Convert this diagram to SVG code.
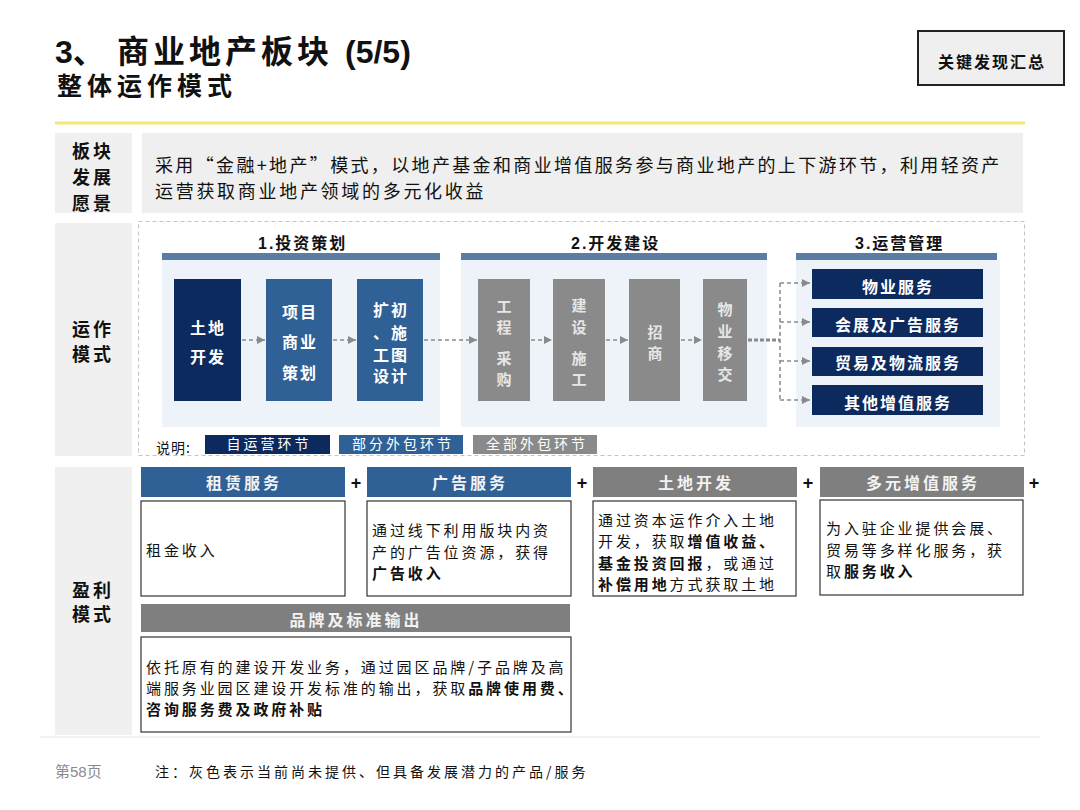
<svg xmlns="http://www.w3.org/2000/svg" width="1080" height="810" viewBox="0 0 1080 810">
<defs>
<marker id="ah" markerWidth="9" markerHeight="9" refX="8" refY="4.5" orient="auto" markerUnits="userSpaceOnUse"><path d="M0,0.5 L8,4.5 L0,8.5 z" fill="#8a8a8a"/></marker>
</defs>
<style>
text{font-family:"Noto Sans CJK SC","Noto Sans",sans-serif}
.lat{font-family:"Liberation Sans","Noto Sans CJK SC",sans-serif}
.cell{fill:#f0f0f0}
.lbl{font-size:18px;font-weight:700;fill:#111;letter-spacing:3px}
.ph{font-size:16px;font-weight:700;fill:#111;letter-spacing:2px}
.bar{fill:#5b7ca3}
.pan{fill:#eef2f9}
.navy{fill:#0c2a5e}
.blue{fill:#2f6096}
.gray{fill:#8a8a8a}
.hgray{fill:#7f7f7f}
.bt{font-size:16px;font-weight:700;fill:#fff;text-anchor:middle;letter-spacing:2px}
.gt{font-size:15px;font-weight:700;fill:#e6e6e6;text-anchor:middle}
.hd{font-size:16px;font-weight:700;fill:#f2f2f2;text-anchor:middle;letter-spacing:3px}
.box{fill:#fff;stroke:#333;stroke-width:1.2}
.ct{font-size:15px;fill:#111;letter-spacing:2.9px}
.b{font-weight:700}
.plus{font-size:18px;font-weight:700;fill:#111;text-anchor:middle;font-family:"Liberation Sans",sans-serif}
.dash{stroke:#8a8a8a;stroke-width:1.5;stroke-dasharray:4 3;fill:none}
.lg{font-size:14px;fill:#fff;text-anchor:middle;letter-spacing:3px}
</style>
<rect width="1080" height="810" fill="#fff"/>

<g id="title">
<text class="lat" x="55" y="63" font-size="32" font-weight="700" fill="#111">3、<tspan x="117" letter-spacing="4">商业地产板块</tspan><tspan x="345">(5/5)</tspan></text>
<text x="57" y="95" font-size="25" font-weight="700" fill="#111" letter-spacing="5">整体运作模式</text>
</g>
<g id="key-box">
<rect x="918" y="31" width="146" height="54" fill="#efefef" stroke="#222" stroke-width="2"/>
<text x="992" y="68" font-size="16" font-weight="700" fill="#111" text-anchor="middle" letter-spacing="2">关键发现汇总</text>
</g>
<line x1="55" y1="123" x2="1025" y2="123" stroke="#f3e577" stroke-width="3"/>

<g id="row-vision">
<rect class="cell" x="55" y="133" width="77" height="80"/>
<text class="lbl" x="72" y="158">板块</text>
<text class="lbl" x="72" y="184">发展</text>
<text class="lbl" x="72" y="210">愿景</text>
<rect x="142" y="133" width="881" height="80" fill="#efefef"/>
<text x="155" y="172" font-size="18" fill="#111" letter-spacing="2.35">采用“金融+地产”模式，以地产基金和商业增值服务参与商业地产的上下游环节，利用轻资产</text>
<text x="155" y="198" font-size="18" fill="#111" letter-spacing="2.7">运营获取商业地产领域的多元化收益</text>
</g>

<g id="row-operation">
<rect class="cell" x="55" y="223" width="77" height="233"/>
<text class="lbl" x="72" y="336">运作</text>
<text class="lbl" x="72" y="361">模式</text>
<rect x="138.5" y="221.5" width="886" height="234" fill="none" stroke="#c4c4c4" stroke-width="1" stroke-dasharray="4 3"/>
</g>

<g id="phase1">
<text class="ph lat" x="258" y="249">1.投资策划</text>
<rect class="pan" x="162" y="260" width="278" height="167"/>
<rect class="bar" x="162" y="253" width="278" height="7"/>
</g>
<g id="phase2">
<text class="ph lat" x="571" y="249">2.开发建设</text>
<rect class="pan" x="461" y="260" width="306" height="167"/>
<rect class="bar" x="461" y="253" width="306" height="7"/>
</g>
<g id="phase3">
<text class="ph lat" x="855" y="249">3.运营管理</text>
<rect class="pan" x="796" y="260" width="204" height="167"/>
<rect class="bar" x="796" y="253" width="201" height="7"/>
</g>

<g id="n-land">
<rect class="navy" x="174" y="279" width="67" height="122"/>
<text class="bt" x="208" y="334">土地</text>
<text class="bt" x="208" y="363">开发</text>
</g>
<g id="n-plan">
<rect class="blue" x="266" y="279" width="66" height="122"/>
<text class="bt" x="300" y="318">项目</text>
<text class="bt" x="300" y="348">商业</text>
<text class="bt" x="300" y="379">策划</text>
</g>
<g id="n-design">
<rect class="blue" x="357" y="279" width="66" height="122"/>
<text class="bt" x="391" y="316">扩初</text>
<text class="bt" x="391" y="339">、施</text>
<text class="bt" x="391" y="361">工图</text>
<text class="bt" x="391" y="382">设计</text>
</g>
<g id="n-procure">
<rect class="gray" x="478" y="279" width="52" height="122"/>
<text class="gt" x="504" y="312">工</text>
<text class="gt" x="504" y="333">程</text>
<text class="gt" x="504" y="364">采</text>
<text class="gt" x="504" y="385">购</text>
</g>
<g id="n-build">
<rect class="gray" x="553" y="279" width="52" height="122"/>
<text class="gt" x="579" y="311">建</text>
<text class="gt" x="579" y="333">设</text>
<text class="gt" x="579" y="364">施</text>
<text class="gt" x="579" y="385">工</text>
</g>
<g id="n-lease">
<rect class="gray" x="629" y="279" width="51" height="122"/>
<text class="gt" x="655" y="338">招</text>
<text class="gt" x="655" y="359">商</text>
</g>
<g id="n-handover">
<rect class="gray" x="703" y="279" width="44" height="122"/>
<text class="gt" x="725" y="315">物</text>
<text class="gt" x="725" y="337">业</text>
<text class="gt" x="725" y="359">移</text>
<text class="gt" x="725" y="380">交</text>
</g>

<g id="s1"><rect class="navy" x="812" y="269" width="171" height="30"/><text class="bt" x="898" y="293">物业服务</text></g>
<g id="s2"><rect class="navy" x="812" y="308" width="171" height="29"/><text class="bt" x="898" y="331">会展及广告服务</text></g>
<g id="s3"><rect class="navy" x="812" y="347" width="171" height="29"/><text class="bt" x="898" y="369">贸易及物流服务</text></g>
<g id="s4"><rect class="navy" x="812" y="385" width="171" height="30"/><text class="bt" x="898" y="409">其他增值服务</text></g>

<g id="connectors">
<line class="dash" x1="242" y1="340" x2="265" y2="340" marker-end="url(#ah)"/>
<line class="dash" x1="333" y1="340" x2="356" y2="340" marker-end="url(#ah)"/>
<line class="dash" x1="424" y1="340" x2="477" y2="340" marker-end="url(#ah)"/>
<line class="dash" x1="531" y1="340" x2="552" y2="340" marker-end="url(#ah)"/>
<line class="dash" x1="606" y1="340" x2="628" y2="340" marker-end="url(#ah)"/>
<line class="dash" x1="681" y1="340" x2="702" y2="340" marker-end="url(#ah)"/>
<line x1="748" y1="340" x2="780" y2="340" stroke="#8a8a8a" stroke-width="3" stroke-dasharray="4 2"/>
<line class="dash" x1="780" y1="283" x2="780" y2="400"/>
<line class="dash" x1="780" y1="283" x2="810" y2="283" marker-end="url(#ah)"/>
<line class="dash" x1="780" y1="322" x2="810" y2="322" marker-end="url(#ah)"/>
<line class="dash" x1="780" y1="361" x2="810" y2="361" marker-end="url(#ah)"/>
<line class="dash" x1="780" y1="400" x2="810" y2="400" marker-end="url(#ah)"/>
</g>

<g id="legend">
<text x="156" y="453" font-size="14" fill="#111" letter-spacing="1">说明:</text>
<rect class="navy" x="205" y="435" width="125" height="19"/><text class="lg" x="269" y="449">自运营环节</text>
<rect class="blue" x="339" y="435" width="124" height="19"/><text class="lg" x="403" y="449">部分外包环节</text>
<rect fill="#8a8a8a" x="473" y="435" width="124" height="19"/><text class="lg" x="537" y="449" fill="#eee">全部外包环节</text>
</g>

<g id="row-profit">
<rect class="cell" x="55" y="467" width="77" height="268"/>
<text class="lbl" x="72" y="597">盈利</text>
<text class="lbl" x="72" y="621">模式</text>
</g>

<g id="p-rent">
<rect class="blue" x="141" y="467" width="204" height="30"/>
<text class="hd" x="244" y="489">租赁服务</text>
<rect class="box" x="141" y="501" width="204" height="95"/>
<text class="ct" x="146" y="556">租金收入</text>
</g>
<text class="plus" x="356" y="489">+</text>
<g id="p-ad">
<rect class="blue" x="367" y="467" width="204" height="30"/>
<text class="hd" x="470" y="489">广告服务</text>
<rect class="box" x="367" y="501" width="204" height="95"/>
<text class="ct" x="372" y="536">通过线下利用版块内资</text>
<text class="ct" x="372" y="558">产的广告位资源，获得</text>
<text class="ct b" x="372" y="579">广告收入</text>
</g>
<text class="plus" x="582" y="489">+</text>
<g id="p-landdev">
<rect class="hgray" x="593" y="467" width="204" height="30"/>
<text class="hd" x="696" y="489">土地开发</text>
<rect class="box" x="593" y="501" width="203" height="95"/>
<text class="ct" x="598" y="526">通过资本运作介入土地</text>
<text class="ct" x="598" y="547">开发，获取<tspan class="b">增值收益、</tspan></text>
<text class="ct" x="598" y="569"><tspan class="b">基金投资回报</tspan>，或通过</text>
<text class="ct" x="598" y="590"><tspan class="b">补偿用地</tspan>方式获取土地</text>
</g>
<text class="plus" x="808" y="489">+</text>
<g id="p-vas">
<rect class="hgray" x="820" y="467" width="204" height="30"/>
<text class="hd" x="923" y="489">多元增值服务</text>
<rect class="box" x="820" y="500" width="203" height="95"/>
<text class="ct" x="826" y="534">为入驻企业提供会展、</text>
<text class="ct" x="826" y="556">贸易等多样化服务，获</text>
<text class="ct" x="826" y="577">取<tspan class="b">服务收入</tspan></text>
</g>
<text class="plus" x="1034" y="489">+</text>
<g id="p-brand">
<rect class="hgray" x="141" y="604" width="429" height="28"/>
<text class="hd" x="356" y="626">品牌及标准输出</text>
<rect class="box" x="141" y="637" width="430" height="95"/>
<text class="ct" x="146" y="673" letter-spacing="2.6">依托原有的建设开发业务，通过园区品牌/子品牌及高</text>
<text class="ct" x="146" y="694" letter-spacing="2.6">端服务业园区建设开发标准的输出，获取<tspan class="b">品牌使用费、</tspan></text>
<text class="ct b" x="146" y="715" letter-spacing="2.6">咨询服务费及政府补贴</text>
</g>
<line x1="40" y1="737" x2="1040" y2="737" stroke="#ececec" stroke-width="1.5"/>

<g id="footer">
<text class="lat" x="55" y="777" font-size="15" fill="#8a8a8a">第58页</text>
<text x="155" y="777" font-size="14" fill="#111" letter-spacing="3">注：灰色表示当前尚未提供、但具备发展潜力的产品/服务</text>
</g>
</svg>
